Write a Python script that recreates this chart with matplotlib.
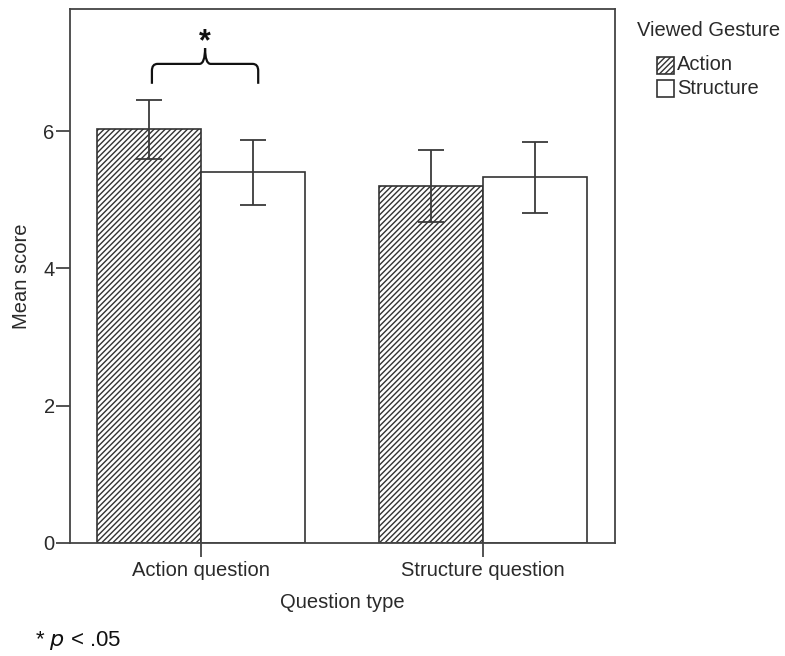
import numpy as np
import matplotlib
matplotlib.use('Agg')
import matplotlib.pyplot as plt
from matplotlib.patches import Rectangle, PathPatch
from matplotlib.path import Path

plt.rcParams['font.family'] = ['Liberation Sans', 'DejaVu Sans']
plt.rcParams['hatch.linewidth'] = 1.0
plt.rcParams['hatch.color'] = '#333333'

# data
questions = ['Action question', 'Structure question']
gestures = ['Action', 'Structure']
means = {'Action': [6.03, 5.20], 'Structure': [5.40, 5.33]}
err_low = {'Action': [5.60, 4.68], 'Structure': [4.92, 4.81]}
err_high = {'Action': [6.45, 5.72], 'Structure': [5.87, 5.84]}
hatches = {'Action': '//////', 'Structure': None}

ink = '#333333'
fig = plt.figure(figsize=(7.85, 6.56), dpi=100)
ax = fig.add_axes([0.0892, 0.1723, 0.6942, 0.814])

x = np.arange(len(questions))
w = 0.369
for i, g in enumerate(gestures):
    pos = x + (i - 0.5) * w
    ax.bar(pos, means[g], width=w, color='white', edgecolor=ink,
           linewidth=1.2, hatch=hatches[g], zorder=2)
    lo = np.array(means[g]) - np.array(err_low[g])
    hi = np.array(err_high[g]) - np.array(means[g])
    ax.errorbar(pos, means[g], yerr=[lo, hi], fmt='none', ecolor='#3a3a3a',
                elinewidth=1.3, capsize=9.3, capthick=1.3, zorder=3)

ax.set_xlim(-0.465, 1.468)
ax.set_ylim(0, 7.78)
ax.set_yticks([0, 2, 4, 6])
ax.set_xticks(x)
ax.set_xticklabels(questions)
for s in ax.spines.values():
    s.set_color('#444444')
    s.set_linewidth(1.3)
ax.tick_params(axis='both', direction='out', length=10, width=1.3,
               color='#444444', labelsize=14.5, labelcolor='#2a2a2a', pad=1)
ax.tick_params(axis='x', pad=3)
ax.set_xlabel('Question type', fontsize=14.5, color='#2a2a2a', labelpad=9)
ax.set_ylabel('Mean score', fontsize=14.5, color='#2a2a2a', labelpad=9)

# significance brace over the action question bars
bx0 = x[0] - 0.5 * w + 0.01
bx1 = x[0] + 0.5 * w + 0.018
bm = (bx0 + bx1) / 2
yb, yt, ytip = 6.69, 6.98, 7.21
rx, ry = 0.02, 0.1
verts = [(bx0, yb), (bx0, yt - ry), (bx0, yt), (bx0 + rx, yt),
         (bm - rx, yt), (bm, yt), (bm, ytip),
         (bm, yt), (bm + rx, yt),
         (bx1 - rx, yt), (bx1, yt), (bx1, yt - ry), (bx1, yb)]
codes = [Path.MOVETO, Path.LINETO, Path.CURVE3, Path.CURVE3,
         Path.LINETO, Path.CURVE3, Path.CURVE3,
         Path.CURVE3, Path.CURVE3,
         Path.LINETO, Path.CURVE3, Path.CURVE3, Path.LINETO]
ax.add_patch(PathPatch(Path(verts, codes), facecolor='none',
                       edgecolor='#111111', linewidth=1.6, zorder=4,
                       clip_on=False))
ax.text(bm, 7.30, '*', ha='center', va='center', fontsize=22,
        fontweight='bold', color='#111111')

# legend drawn by hand
fig.text(637 / 785, 1 - 31 / 656, 'Viewed Gesture', fontsize=14.5,
         color='#2a2a2a', va='center', ha='left')
for k, g in enumerate(gestures):
    yc = 65 + k * 23
    fig.patches.append(Rectangle((657 / 785, 1 - (yc + 8.5) / 656),
                                 17 / 785, 17 / 656, transform=fig.transFigure,
                                 facecolor='white', edgecolor=ink,
                                 linewidth=1.2, hatch=hatches[g]))
    fig.text(677 / 785, 1 - yc / 656, g, fontsize=14.5, color='#2a2a2a',
             va='center', ha='left')

fig.text(35 / 785, 1 - 641 / 656, r'* $\it{p}$ < .05', fontsize=16,
         color='#111111', va='center', ha='left')

fig.savefig('out.png', dpi=100)
